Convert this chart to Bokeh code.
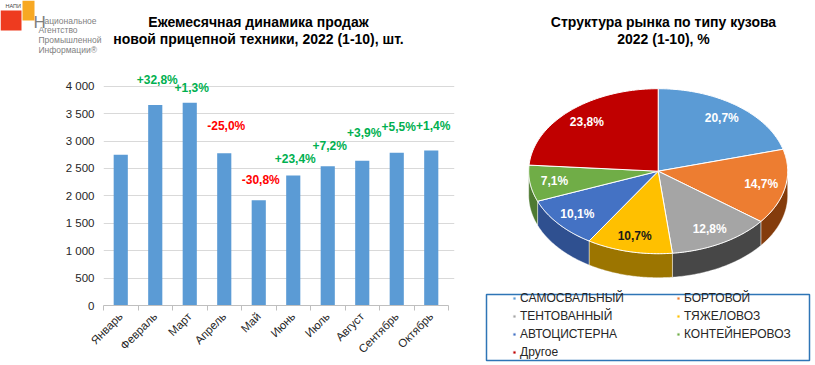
import math
from bokeh.plotting import figure
from bokeh.layouts import row, column
from bokeh.models import Range1d, FixedTicker, ColumnDataSource, Legend, LegendItem
from bokeh.core.properties import value
from bokeh.embed import file_html
from bokeh.resources import INLINE

# ---------------- data ----------------
months = ["Январь", "Февраль", "Март", "Апрель", "Май", "Июнь",
          "Июль", "Август", "Сентябрь", "Октябрь"]
sales = [2750, 3655, 3700, 2775, 1920, 2370, 2540, 2640, 2785, 2825]
change_labels = ["", "+32,8%", "+1,3%", "-25,0%", "-30,8%", "+23,4%",
                 "+7,2%", "+3,9%", "+5,5%", "+1,4%"]
y_ticks = [0, 500, 1000, 1500, 2000, 2500, 3000, 3500, 4000]
y_tick_labels = ["0", "500", "1 000", "1 500", "2 000", "2 500", "3 000", "3 500", "4 000"]

body_types = ["САМОСВАЛЬНЫЙ", "БОРТОВОЙ", "ТЕНТОВАННЫЙ", "ТЯЖЕЛОВОЗ",
              "АВТОЦИСТЕРНА", "КОНТЕЙНЕРОВОЗ", "Другое"]
shares = [20.7, 14.7, 12.8, 10.7, 10.1, 7.1, 23.8]
share_labels = ["20,7%", "14,7%", "12,8%", "10,7%", "10,1%", "7,1%", "23,8%"]

left_title = ["Ежемесячная динамика продаж", "новой прицепной техники, 2022 (1-10), шт."]
right_title = ["Структура рынка по типу кузова", "2022 (1-10), %"]
logo_lines = ["ациональное", "Агентство", "Промышленной", "Информации®"]

# ---------------- style ----------------
FONT = "Liberation Sans"
TEXT_DARK = "#262626"
BAR_COLOR = "#5B9BD5"
slice_colors = ["#5B9BD5", "#ED7D31", "#A5A5A5", "#FFC000", "#4472C4", "#70AD47", "#C00000"]
wall_colors = ["#3A6E9E", "#843C0C", "#474747", "#9C7500", "#2F5090", "#4E7A31", "#7A0000"]
slice_text_colors = ["white", "white", "white", "#1A1A1A", "white", "white", "white"]
# how far (px) each change label sits above its bar (manual placement in the original)
label_rise = [0, 25, 15, 27, 20, 17, 20, 28, 26, 25]

LW, RW, H = 470, 343, 364
HDR_H = 58
FL, FR = 103, 448            # category-axis extent (px)
EXTRA_R = 6                  # room on the right so the last label is not clipped
BB = 59                      # bar bottom border (px)
PX_4000 = 85.7               # pixel row of the 4 000 gridline


def bare(fig):
    fig.grid.visible = False
    fig.outline_line_color = None
    return fig


# ---------------- header: logo + left title ----------------
hdr = bare(figure(width=LW, height=HDR_H, x_range=Range1d(0, LW), y_range=Range1d(HDR_H, 0),
                  x_axis_type=None, y_axis_type=None, min_border=0,
                  output_backend="svg", toolbar_location=None))
hdr.quad(left=[0], right=[21], top=[10], bottom=[30], fill_color="#EE3B1F", line_color=None)
hdr.quad(left=[22], right=[34], top=[0], bottom=[20], fill_color="#F7A823", line_color=None)
hdr.text(x=[5], y=[5.5], text=["НАПИ"], text_font=value(FONT), text_font_size="5.5px",
         text_color="#444444", text_baseline="middle")
hdr.text(x=[33], y=[21.5], text=["Н"], text_font=value(FONT), text_font_size="17px",
         text_color="#7F7F7F", text_baseline="alphabetic")
hdr.text(x=[44, 38, 38, 38], y=[20.5, 29.5, 39.5, 49.5], text=logo_lines,
         text_font=value(FONT), text_font_size="8.5px", text_color="#7F7F7F",
         text_baseline="alphabetic")
hdr.text(x=[258, 258], y=[21, 38], text=left_title, text_font=value(FONT),
         text_font_size="14px", text_font_style="bold", text_color="black",
         text_align="center", text_baseline="middle")

# ---------------- bar chart ----------------
idx = list(range(len(months)))
n = len(months)
cat_px = (FR - FL) / n
bar_h = H - HDR_H
frame_bottom = H - BB                                   # absolute px
y_end = 4000 * (frame_bottom - HDR_H) / (frame_bottom - PX_4000)
bar = bare(figure(width=LW, height=bar_h,
                  x_range=Range1d(-0.5, n - 0.5 + EXTRA_R / cat_px),
                  y_range=Range1d(0, y_end), output_backend="svg", toolbar_location=None,
                  min_border_left=FL, min_border_right=LW - FR - EXTRA_R, min_border_top=0,
                  min_border_bottom=BB))
bar.ygrid.visible = True
bar.ygrid.ticker = FixedTicker(ticks=y_ticks)
bar.ygrid.grid_line_color = "#D9D9D9"

bsrc = ColumnDataSource(dict(x=idx, top=sales, lab=change_labels,
                             dy=[-r for r in label_rise],
                             col=["#00B050" if s.startswith("+") else "#FF0000" for s in change_labels]))
bar.vbar(x="x", top="top", width=0.41, source=bsrc, fill_color=BAR_COLOR, line_color=None)
bar.text(x="x", y="top", text="lab", source=bsrc, text_color="col", text_align="center",
         text_baseline="middle", x_offset=2, y_offset="dy", text_font=value(FONT),
         text_font_size="12px", text_font_style="bold")

ya = bar.yaxis[0]
ya.ticker = FixedTicker(ticks=y_ticks)
ya.major_label_overrides = dict(zip(y_ticks, y_tick_labels))
ya.axis_line_color = None
ya.major_tick_line_color = None
ya.minor_tick_line_color = None
ya.major_tick_out = 0
ya.major_tick_in = 0
ya.major_label_standoff = 9
ya.major_label_text_font = FONT
ya.major_label_text_font_size = "11.5px"
ya.major_label_text_color = TEXT_DARK

xa = bar.xaxis[0]
xa.bounds = (-0.5, n - 0.5)
xa.ticker = FixedTicker(ticks=idx, minor_ticks=[i - 0.5 for i in range(n + 1)])
xa.major_label_overrides = dict(zip(idx, months))
xa.axis_line_color = "#BFBFBF"
xa.major_tick_line_color = None
xa.major_tick_out = 0
xa.major_tick_in = 0
xa.minor_tick_line_color = "#BFBFBF"
xa.minor_tick_out = 5
xa.minor_tick_in = 0
xa.major_label_orientation = math.pi / 4
xa.major_label_standoff = 4
xa.major_label_text_font = FONT
xa.major_label_text_font_size = "11.5px"
xa.major_label_text_color = TEXT_DARK

# ---------------- 3D pie ----------------
pie = bare(figure(width=RW, height=H, x_range=Range1d(0, RW), y_range=Range1d(H, 0),
                  x_axis_type=None, y_axis_type=None, min_border=0,
                  output_backend="svg", toolbar_location=None))

pie.text(x=[193, 193], y=[21, 38], text=right_title, text_font=value(FONT),
         text_font_size="14px", text_font_style="bold", text_color="black",
         text_align="center", text_baseline="middle")

cx, cy, rx, ry, depth = 187.7, 170.7, 129.5, 82.5, 24.0


def pt(deg, r=1.0):
    t = math.radians(deg)
    return cx + r * rx * math.sin(t), cy - r * ry * math.cos(t)


def arc(a0, a1, k_n=60):
    return [pt(a0 + (a1 - a0) * k / k_n) for k in range(k_n + 1)]


total = sum(shares)
bounds = []
acc = 0.0
for s in shares:
    bounds.append((360 * acc / total, 360 * (acc + s) / total))
    acc += s

# side walls (front half only)
wx, wy, wc = [], [], []
for (a0, a1), c in zip(bounds, wall_colors):
    lo, hi = max(a0, 90.0), min(a1, 270.0)
    if hi > lo:
        top_pts = arc(lo, hi)
        wx.append([p[0] for p in top_pts] + [p[0] for p in reversed(top_pts)])
        wy.append([p[1] for p in top_pts] + [p[1] + depth for p in reversed(top_pts)])
        wc.append(c)
pie.patches(xs=wx, ys=wy, fill_color=wc, line_color="white", line_width=0.6, line_alpha=0.7)

# top faces
items = []
for i, ((a0, a1), c) in enumerate(zip(bounds, slice_colors)):
    pts = arc(a0, a1)
    r = pie.patch(x=[cx] + [p[0] for p in pts], y=[cy] + [p[1] for p in pts],
                  fill_color=c, line_color="white", line_width=1)
    items.append(LegendItem(label=body_types[i], renderers=[r]))

mids = [pt((a0 + a1) / 2, 0.81) for a0, a1 in bounds]
pie.text(x=[m[0] for m in mids], y=[m[1] for m in mids], text=share_labels,
         text_color=slice_text_colors, text_align="center", text_baseline="middle",
         text_font=value(FONT), text_font_size="12px", text_font_style="bold")

# legend box + legend
pie.quad(left=[16], right=[339], top=[294], bottom=[360], fill_color=None,
         line_color="#2E75B6", line_width=1.5)
legend = Legend(items=items, location=(42, H - 358.5), orientation="horizontal", ncols=2,
                glyph_width=4, glyph_height=4, label_standoff=4, label_width=152,
                label_height=13, spacing=4, padding=0, margin=0,
                border_line_color=None, background_fill_alpha=0,
                label_text_font=FONT, label_text_font_size="12px",
                label_text_color=TEXT_DARK)
pie.add_layout(legend)

layout = row(column(row(hdr), bar), pie)
open("out.html", "w").write(file_html(layout, INLINE))
